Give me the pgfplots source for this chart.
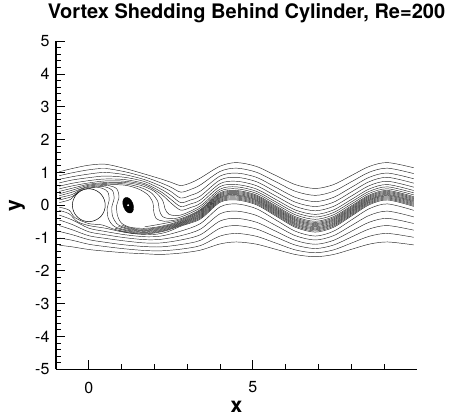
\documentclass[border=0pt]{standalone}
\usepackage{fontspec}
\setmainfont{TeX Gyre Heros}
\usepackage{pgfplots}
\pgfplotsset{compat=1.18}
\begin{document}
\begin{tikzpicture}
\begin{axis}[
  name=ax,
  scale only axis,
  width=361pt, height=328pt,
  xmin=-1, xmax=10, ymin=-5, ymax=5,
  axis x line=bottom, axis y line=left,
  axis line style={-, line width=1.1pt},
  xtick={0,5}, minor xtick={1,2,3,4,6,7,8,9},
  ytick={-5,-4,...,5}, minor y tick num=4,
  tick align=inside,
  major tick length=9pt, minor tick length=5pt,
  every tick/.style={black, line width=0.9pt},
  /pgf/number format/assume math mode=true,
  ticklabel style={font=\fontsize{16}{19}\selectfont},
  xticklabel style={yshift=-9pt},
  yticklabel style={xshift=-3pt},
  xlabel={x}, ylabel={y},
  xlabel style={at={(axis description cs:0.5,-0.116)}, anchor=center, font=\bfseries\fontsize{21}{24}\selectfont},
  ylabel style={at={(axis description cs:-0.108,0.5)}, anchor=center, font=\bfseries\fontsize{21}{24}\selectfont},
  title={Vortex Shedding Behind Cylinder, Re=200},
  title style={at={(axis description cs:0.5277,1.0518)}, anchor=base, font=\bfseries\fontsize{20}{24}\selectfont},
  no markers,
  stream/.style={black!85, line width=0.45pt, smooth},
]
% upper outer streamlines
\addplot[stream] coordinates {(-0.9,1.02)(-0.5,1.12)(0,1.22)(0.5,1.25)(1.1,1.12)(1.7,0.95)(2.2,0.8)(2.5,0.7)(2.8,0.6)(3.1,0.68)(3.4,0.83)(4.0,1.19)(4.5,1.30)(5.1,1.184)(5.7,0.905)(6.3,0.626)(6.9,0.51)(7.45,0.626)(8.0,0.905)(8.55,1.184)(9.1,1.30)(9.9,1.142)};
\addplot[stream] coordinates {(-0.9,0.9)(-0.5,0.99)(0,1.08)(0.5,1.12)(1.1,1.02)(1.7,0.86)(2.2,0.68)(2.5,0.55)(2.8,0.4)(3.1,0.48)(3.4,0.62)(4.0,1.03)(4.5,1.13)(5.1,1.008)(5.7,0.715)(6.3,0.422)(6.9,0.30)(7.45,0.422)(8.0,0.715)(8.55,1.008)(9.1,1.13)(9.9,0.964)};
\addplot[stream] coordinates {(-0.9,0.79)(-0.5,0.87)(0,0.95)(0.5,1.0)(1.1,0.93)(1.7,0.78)(2.2,0.58)(2.5,0.42)(2.8,0.22)(3.1,0.3)(3.4,0.43)(4.0,0.89)(4.5,0.98)(5.1,0.853)(5.7,0.545)(6.3,0.237)(6.9,0.11)(7.45,0.237)(8.0,0.545)(8.55,0.853)(9.1,0.98)(9.9,0.806)};
\addplot[stream] coordinates {(-0.9,0.68)(-0.5,0.77)(0,0.84)(0.5,0.89)(1.1,0.85)(1.7,0.72)(2.2,0.49)(2.5,0.3)(2.8,0.08)(3.1,0.16)(3.4,0.28)(4.0,0.77)(4.5,0.85)(5.1,0.72)(5.7,0.405)(6.3,0.09)(6.9,-0.04)(7.45,0.09)(8.0,0.405)(8.55,0.72)(9.1,0.85)(9.9,0.672)};
\addplot[stream] coordinates {(-0.9,0.58)(-0.5,0.67)(0,0.75)(0.5,0.8)(1.1,0.78)(1.7,0.66)(2.2,0.41)(2.5,0.18)(2.8,-0.04)(3.1,0.04)(3.4,0.16)(4.0,0.66)(4.5,0.73)(5.1,0.598)(5.7,0.28)(6.3,-0.038)(6.9,-0.17)(7.45,-0.038)(8.0,0.28)(8.55,0.598)(9.1,0.73)(9.9,0.55)};
\addplot[stream] coordinates {(-0.9,0.5)(-0.5,0.59)(0,0.68)(0.5,0.74)(1.1,0.73)(1.7,0.62)(2.2,0.34)(2.5,0.07)(2.8,-0.15)(3.1,-0.07)(3.4,0.06)(4.0,0.57)(4.5,0.63)(5.1,0.497)(5.7,0.175)(6.3,-0.147)(6.9,-0.28)(7.45,-0.147)(8.0,0.175)(8.55,0.497)(9.1,0.63)(9.9,0.448)};
% lines turning round the right side of the vortex
\addplot[stream] coordinates {(-0.9,0.42)(-0.5,0.52)(0,0.64)(0.5,0.69)(1.1,0.69)(1.6,0.6)(2.0,0.42)(2.25,0.15)(2.32,-0.1)(2.45,-0.28)(2.8,-0.3)(3.4,-0.02)(4.0,0.49)(4.5,0.56)(5.1,0.425)(5.7,0.10)(6.3,-0.225)(6.9,-0.36)(7.45,-0.225)(8.0,0.10)(8.55,0.425)(9.1,0.56)(9.9,0.376)};
\addplot[stream] coordinates {(-0.9,0.35)(-0.5,0.46)(0,0.61)(0.5,0.66)(1.1,0.65)(1.55,0.55)(1.9,0.38)(2.1,0.12)(2.15,-0.15)(2.25,-0.35)(2.5,-0.41)(2.8,-0.36)(3.4,-0.08)(4.0,0.43)(4.5,0.50)(5.1,0.364)(5.7,0.035)(6.3,-0.294)(6.9,-0.43)(7.45,-0.294)(8.0,0.035)(8.55,0.364)(9.1,0.50)(9.9,0.314)};
\addplot[stream] coordinates {(-0.9,0.29)(-0.5,0.4)(0,0.58)(0.5,0.63)(1.1,0.61)(1.5,0.5)(1.8,0.32)(1.95,0.08)(1.98,-0.2)(2.05,-0.4)(2.3,-0.49)(2.8,-0.41)(3.4,-0.13)(4.0,0.38)(4.5,0.45)(5.1,0.312)(5.7,-0.02)(6.3,-0.352)(6.9,-0.49)(7.45,-0.352)(8.0,-0.02)(8.55,0.312)(9.1,0.45)(9.9,0.262)};
% lines diving between cylinder and vortex
\addplot[stream] coordinates {(-0.9,0.23)(-0.5,0.33)(-0.2,0.5)(0.2,0.58)(0.6,0.6)(0.85,0.5)(0.92,0.25)(0.85,0.0)(0.87,-0.3)(1.0,-0.55)(1.3,-0.68)(1.8,-0.7)(2.3,-0.62)(2.8,-0.47)(3.4,-0.18)(4.0,0.32)(4.5,0.39)(5.1,0.251)(5.7,-0.085)(6.3,-0.421)(6.9,-0.56)(7.45,-0.421)(8.0,-0.085)(8.55,0.251)(9.1,0.39)(9.9,0.20)};
\addplot[stream] coordinates {(-0.9,0.16)(-0.5,0.27)(-0.25,0.45)(0.15,0.55)(0.5,0.56)(0.72,0.45)(0.77,0.2)(0.7,-0.05)(0.73,-0.35)(0.9,-0.6)(1.3,-0.73)(1.8,-0.75)(2.3,-0.67)(2.8,-0.52)(3.4,-0.24)(4.0,0.26)(4.5,0.33)(5.1,0.191)(5.7,-0.145)(6.3,-0.481)(6.9,-0.62)(7.45,-0.481)(8.0,-0.145)(8.55,0.191)(9.1,0.33)(9.9,0.14)};
\addplot[stream] coordinates {(-0.9,0.08)(-0.55,0.18)(-0.38,0.36)(0.1,0.53)(0.4,0.52)(0.58,0.4)(0.62,0.15)(0.56,-0.1)(0.6,-0.42)(0.8,-0.66)(1.3,-0.78)(1.8,-0.8)(2.3,-0.72)(2.8,-0.56)(3.4,-0.3)(4.0,0.21)(4.5,0.28)(5.1,0.138)(5.7,-0.205)(6.3,-0.548)(6.9,-0.69)(7.45,-0.548)(8.0,-0.205)(8.55,0.138)(9.1,0.28)(9.9,0.086)};
% lines passing under the cylinder into the wake
\addplot[stream] coordinates {(-0.9,-0.06)(-0.6,-0.15)(-0.42,-0.38)(0,-0.56)(0.4,-0.6)(0.8,-0.74)(1.3,-0.83)(1.8,-0.85)(2.3,-0.77)(2.8,-0.6)(3.4,-0.36)(4.0,0.15)(4.5,0.22)(5.1,0.078)(5.7,-0.265)(6.3,-0.608)(6.9,-0.75)(7.45,-0.608)(8.0,-0.265)(8.55,0.078)(9.1,0.22)(9.9,0.026)};
\addplot[stream] coordinates {(-0.9,-0.16)(-0.6,-0.26)(-0.35,-0.5)(0,-0.62)(0.5,-0.7)(1.0,-0.81)(1.5,-0.88)(2.0,-0.89)(2.4,-0.81)(2.8,-0.64)(3.4,-0.42)(4.0,0.09)(4.5,0.16)(5.1,0.016)(5.7,-0.33)(6.3,-0.676)(6.9,-0.82)(7.45,-0.676)(8.0,-0.33)(8.55,0.016)(9.1,0.16)(9.9,-0.036)};
% further lines of the shear layer
\addplot[stream] coordinates {(1.7,-0.66)(2.3,-0.555)(2.8,-0.44)(3.4,-0.155)(4.0,0.35)(4.5,0.42)(5.1,0.282)(5.7,-0.0525)(6.3,-0.387)(6.9,-0.525)(7.45,-0.387)(8.0,-0.0525)(8.55,0.282)(9.1,0.42)(9.9,0.231)};
\addplot[stream] coordinates {(1.0,-0.6)(1.3,-0.705)(1.8,-0.725)(2.3,-0.645)(2.8,-0.495)(3.4,-0.21)(4.0,0.29)(4.5,0.36)(5.1,0.221)(5.7,-0.115)(6.3,-0.451)(6.9,-0.59)(7.45,-0.451)(8.0,-0.115)(8.55,0.221)(9.1,0.36)(9.9,0.17)};
\addplot[stream] coordinates {(0.9,-0.645)(1.3,-0.755)(1.8,-0.775)(2.3,-0.695)(2.8,-0.54)(3.4,-0.27)(4.0,0.235)(4.5,0.305)(5.1,0.164)(5.7,-0.175)(6.3,-0.514)(6.9,-0.655)(7.45,-0.514)(8.0,-0.175)(8.55,0.164)(9.1,0.305)(9.9,0.113)};
\addplot[stream] coordinates {(0.8,-0.7)(1.3,-0.805)(1.8,-0.825)(2.3,-0.745)(2.8,-0.58)(3.4,-0.33)(4.0,0.18)(4.5,0.25)(5.1,0.108)(5.7,-0.235)(6.3,-0.578)(6.9,-0.72)(7.45,-0.578)(8.0,-0.235)(8.55,0.108)(9.1,0.25)(9.9,0.056)};
\addplot[stream] coordinates {(0.9,-0.775)(1.3,-0.855)(1.8,-0.87)(2.3,-0.79)(2.8,-0.62)(3.4,-0.39)(4.0,0.12)(4.5,0.19)(5.1,0.047)(5.7,-0.2975)(6.3,-0.643)(6.9,-0.785)(7.45,-0.643)(8.0,-0.2975)(8.55,0.047)(9.1,0.19)(9.9,-0.005)};
% lower outer streamlines
\addplot[stream] coordinates {(-0.9,-0.3)(-0.5,-0.45)(0,-0.7)(0.5,-0.8)(1.1,-0.9)(1.7,-0.96)(2.2,-0.94)(2.8,-0.79)(3.4,-0.56)(4.0,-0.05)(4.5,0.04)(5.1,-0.104)(5.7,-0.45)(6.3,-0.796)(6.9,-0.94)(7.45,-0.796)(8.0,-0.45)(8.55,-0.104)(9.1,0.04)(9.9,-0.156)};
\addplot[stream] coordinates {(-0.9,-0.45)(-0.5,-0.59)(0,-0.81)(0.5,-0.9)(1.1,-0.99)(1.7,-1.05)(2.2,-1.04)(2.8,-0.93)(3.4,-0.73)(4.0,-0.26)(4.5,-0.18)(5.1,-0.309)(5.7,-0.62)(6.3,-0.931)(6.9,-1.06)(7.45,-0.931)(8.0,-0.62)(8.55,-0.309)(9.1,-0.18)(9.9,-0.356)};
\addplot[stream] coordinates {(-0.9,-0.62)(-0.5,-0.75)(0,-0.93)(0.5,-1.01)(1.1,-1.09)(1.7,-1.15)(2.2,-1.15)(2.8,-1.06)(3.4,-0.9)(4.0,-0.48)(4.5,-0.40)(5.1,-0.516)(5.7,-0.795)(6.3,-1.074)(6.9,-1.19)(7.45,-1.074)(8.0,-0.795)(8.55,-0.516)(9.1,-0.40)(9.9,-0.558)};
\addplot[stream] coordinates {(-0.9,-0.8)(-0.5,-0.9)(0,-1.05)(0.5,-1.13)(1.1,-1.21)(1.7,-1.26)(2.2,-1.27)(2.8,-1.2)(3.4,-1.07)(4.0,-0.7)(4.5,-0.62)(5.1,-0.723)(5.7,-0.97)(6.3,-1.217)(6.9,-1.32)(7.45,-1.217)(8.0,-0.97)(8.55,-0.723)(9.1,-0.62)(9.9,-0.76)};
\addplot[stream] coordinates {(-0.9,-1.0)(-0.5,-1.07)(0,-1.19)(0.5,-1.26)(1.1,-1.33)(1.7,-1.38)(2.2,-1.39)(2.8,-1.34)(3.4,-1.23)(4.0,-0.94)(4.5,-0.86)(5.1,-0.946)(5.7,-1.155)(6.3,-1.364)(6.9,-1.45)(7.45,-1.364)(8.0,-1.155)(8.55,-0.946)(9.1,-0.86)(9.9,-0.978)};
\addplot[stream] coordinates {(-0.9,-1.22)(-0.5,-1.27)(0,-1.35)(0.5,-1.4)(1.1,-1.45)(1.7,-1.48)(2.2,-1.5)(2.8,-1.46)(3.4,-1.37)(4.0,-1.18)(4.5,-1.12)(5.1,-1.186)(5.7,-1.345)(6.3,-1.504)(6.9,-1.57)(7.45,-1.504)(8.0,-1.345)(8.55,-1.186)(9.1,-1.12)(9.9,-1.21)};
% cylinder
\addplot[black, line width=0.5pt, fill=white] coordinates {(0.5,0)(0.4924,0.0868)(0.4698,0.1710)(0.4330,0.25)(0.3830,0.3214)(0.3214,0.3830)(0.25,0.4330)(0.1710,0.4698)(0.0868,0.4924)(0,0.5)(-0.0868,0.4924)(-0.1710,0.4698)(-0.25,0.4330)(-0.3214,0.3830)(-0.3830,0.3214)(-0.4330,0.25)(-0.4698,0.1710)(-0.4924,0.0868)(-0.5,0)(-0.4924,-0.0868)(-0.4698,-0.1710)(-0.4330,-0.25)(-0.3830,-0.3214)(-0.3214,-0.3830)(-0.25,-0.4330)(-0.1710,-0.4698)(-0.0868,-0.4924)(0,-0.5)(0.0868,-0.4924)(0.1710,-0.4698)(0.25,-0.4330)(0.3214,-0.3830)(0.3830,-0.3214)(0.4330,-0.25)(0.4698,-0.1710)(0.4924,-0.0868)} --cycle;
% vortex core
\addplot[black, fill=black] coordinates {(1.286,-0.235)(1.333,-0.198)(1.36,-0.13)(1.363,-0.043)(1.341,0.051)(1.298,0.137)(1.239,0.202)(1.175,0.237)(1.115,0.235)(1.067,0.198)(1.04,0.13)(1.037,0.043)(1.059,-0.051)(1.102,-0.137)(1.161,-0.202)(1.225,-0.237)} --cycle;
\addplot[only marks, mark=*, mark size=0.7pt, white] coordinates {(1.2,0.0)};
\end{axis}
\path ([shift={(-56pt,-47pt)}]ax.south west) rectangle ([shift={(397pt,369pt)}]ax.south west);
\end{tikzpicture}
\end{document}
